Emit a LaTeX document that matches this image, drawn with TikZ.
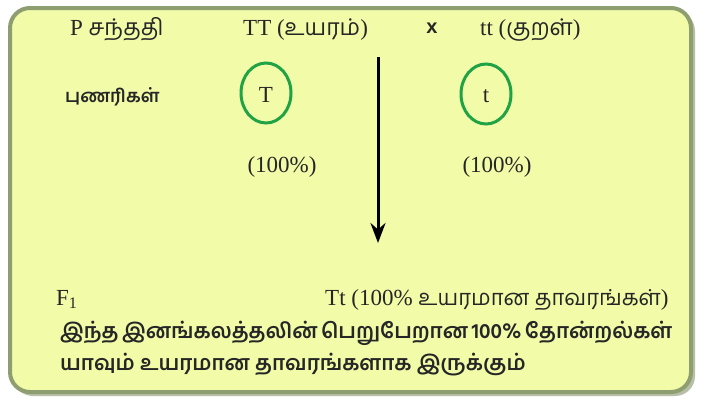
\documentclass[tikz,border=0pt]{standalone}
\usepackage{fontspec}
\setmainfont{Liberation Serif}
\newfontfamily\tamil[Script=Tamil]{Hind Madurai}
\newfontfamily\sansx{Liberation Sans}
\usetikzlibrary{arrows.meta,shapes.geometric}
\definecolor{boxfill}{HTML}{F2FBA8}
\definecolor{boxline}{HTML}{8E9E70}
\definecolor{boxshadow}{HTML}{B8BFA8}
\definecolor{ringgreen}{HTML}{1FA345}
\definecolor{ink}{HTML}{262626}
\newcommand{\ta}[1]{{\tamil #1}}
\begin{document}
\begin{tikzpicture}[x=1pt,y=-1pt,
  lbl/.style={font=\fontsize{23}{26}\selectfont, text=ink, inner sep=0pt, anchor=base west},
  tlbl/.style={font=\tamil\bfseries\fontsize{21}{24}\selectfont, text=ink, inner sep=0pt, anchor=base west},
  ring/.style={draw=ringgreen, line width=3pt, ellipse, minimum width=50pt, minimum height=60pt, inner sep=0pt},
  flow/.style={draw=black, line width=3pt, -{Stealth[length=20pt,width=15pt]}}]
\useasboundingbox (0,0) rectangle (702,402);
\fill[white] (0,0) rectangle (702,402);
\fill[boxshadow, rounded corners=20pt] (13,11) rectangle (695,396);
\draw[boxline, fill=boxfill, line width=4pt, rounded corners=20pt] (10,8) rectangle (691,392);

\node[lbl] (pgen) at (70,35) {P \ta{சந்ததி}};
\node[lbl] (ptall) at (243,35) {TT (\ta{உயரம்})};
\node[font=\sansx\bfseries\fontsize{20}{24}\selectfont, text=ink, inner sep=0pt, anchor=base] (cross) at (432,33) {x};
\node[lbl] (pshort) at (480,35) {tt (\ta{குறள்})};

\node[tlbl, font=\tamil\bfseries\fontsize{18}{22}\selectfont] (gam) at (65,102) {புணரிகள்};
\node[ring] (gT) at (266,93) {};
\node[lbl, anchor=base] (gTl) at (266,102) {T};
\node[ring] (gt) at (486,94) {};
\node[lbl, anchor=base] (gtl) at (486,102) {t};

\node[lbl, anchor=base] (pc1) at (282,172) {(100\%)};
\node[lbl, anchor=base] (pc2) at (497,172) {(100\%)};

\coordinate (atop) at (378,57);
\coordinate (abot) at (378,243);
\draw[flow] (atop) -- (abot);

\node[lbl] (f1) at (56,305) {F\textsubscript{1}};
\node[lbl] (f1res) at (325,305) {Tt (100\% {\tamil\fontsize{22}{24}\selectfont உயரமான தாவரங்கள்})};

\node[tlbl] (conc1) at (60,338) {\makebox[612pt][s]{இந்த இனங்கலத்தலின் பெறுபேறான 100\% தோன்றல்கள்}};
\node[tlbl] (conc2) at (60,370) {யாவும் உயரமான தாவரங்களாக இருக்கும்};
\end{tikzpicture}
\end{document}
